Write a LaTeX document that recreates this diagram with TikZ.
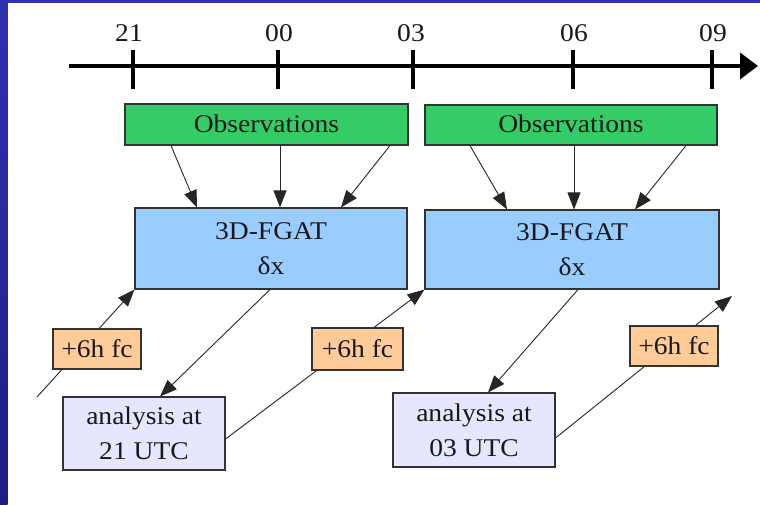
\documentclass[tikz,border=0pt]{standalone}
\usepackage{fontspec}
\setmainfont{Liberation Serif}[FakeStretch=1.08]
\usetikzlibrary{arrows.meta,calc}
\definecolor{frameblue}{RGB}{48,48,180}
\definecolor{frameblueb}{RGB}{30,30,130}
\definecolor{obsgreen}{RGB}{51,204,102}
\definecolor{fgatblue}{RGB}{153,204,255}
\definecolor{fcorange}{RGB}{255,204,153}
\definecolor{analav}{RGB}{230,230,255}
\definecolor{edgegray}{RGB}{50,50,50}
\pgfdeclarelayer{back}
\pgfdeclarelayer{bg}
\pgfsetlayers{back,bg,main}
\tikzset{
  box/.style={draw=edgegray, line width=1.1pt, inner sep=0pt, align=center,
    font=\fontsize{25.5}{35}\selectfont, text=black!90},
  obsbox/.style={box, fill=obsgreen},
  fgatbox/.style={box, fill=fgatblue},
  fcbox/.style={box, fill=fcorange},
  anabox/.style={box, fill=analav},
  conn/.style={draw=black!85, line width=0.9pt, -{Triangle[length=17pt,width=13pt]}},
  ticklab/.style={font=\fontsize{25.5}{30}\selectfont, text=black!90, inner sep=0pt},
  tickmark/.style={line width=4.5pt, black}
}
\begin{document}
\begin{tikzpicture}[x=1pt,y=-1pt]
\useasboundingbox (0,0) rectangle (760,505);
\begin{pgfonlayer}{back}
\fill[white] (0,0) rectangle (760,505);
\shade[top color=frameblue, bottom color=frameblueb] (0,0) rectangle (7.5,505);
\fill[frameblue] (0,0) rectangle (760,3.5);
\end{pgfonlayer}

% timeline
\coordinate (tl0) at (69,66);
\coordinate (tl1) at (758,66);
\draw[line width=4pt, -{Triangle[length=18pt,width=26pt]}] (tl0) -- (tl1);
\foreach \xx/\lab/\lx in {133/21/129, 278/00/279, 413/03/411, 573/06/574, 712/09/713} {
  \draw[tickmark] (\xx,50) -- (\xx,89);
  \node[ticklab] (lab\lab) at (\lx,33) {\lab};
}

% boxes
\node[obsbox, minimum width=283pt, minimum height=41pt, text depth=2pt] (obs1) at (266.5,124.5) {Observations};
\node[obsbox, minimum width=292pt, minimum height=40pt, text depth=2pt] (obs2) at (571,125) {Observations};
\node[fgatbox, minimum width=272pt, minimum height=81pt] (fgat1) at (271,248.5) {3D-FGAT\\δx};
\node[fgatbox, minimum width=294pt, minimum height=79pt] (fgat2) at (572,249.5) {3D-FGAT\\δx};
\node[fcbox, minimum width=88pt, minimum height=40pt] (fc1) at (97,349) {+6h fc};
\node[fcbox, minimum width=91pt, minimum height=42pt] (fc2) at (357.5,349) {+6h fc};
\node[fcbox, minimum width=88pt, minimum height=40pt] (fc3) at (674,346) {+6h fc};
\node[anabox, minimum width=162pt, minimum height=73pt] (ana1) at (144,433.5) {analysis at\\21 UTC};
\node[anabox, minimum width=162pt, minimum height=74pt] (ana2) at (474,430) {analysis at\\03 UTC};

\coordinate (fcin) at (37,397);
\coordinate (fcout) at (732,296);

% connectors
\draw[conn] (obs1.south -| 171,0) -- (fgat1.north -| 197,0);
\draw[conn] (obs1.south -| 280,0) -- (fgat1.north -| 280,0);
\draw[conn] (obs1.south -| 390,0) -- (fgat1.north -| 341,0);
\draw[conn] (obs2.south -| 470,0) -- (fgat2.north -| 507,0);
\draw[conn] (obs2.south -| 574,0) -- (fgat2.north -| 574,0);
\draw[conn] (obs2.south -| 686,0) -- (fgat2.north -| 635,0);
\draw[conn] (fgat1.south -| 270,0) -- (ana1.north -| 160,0);
\draw[conn] (fgat2.south -| 578,0) -- (ana2.north -| 488,0);

\begin{pgfonlayer}{bg}
\draw[conn] (fcin) -- (fgat1.south west);
\draw[conn] ([yshift=-5.5pt]ana1.east) -- (fgat2.south west);
\draw[conn] ([yshift=-8pt]ana2.east) -- (fcout);
\end{pgfonlayer}
\end{tikzpicture}
\end{document}
